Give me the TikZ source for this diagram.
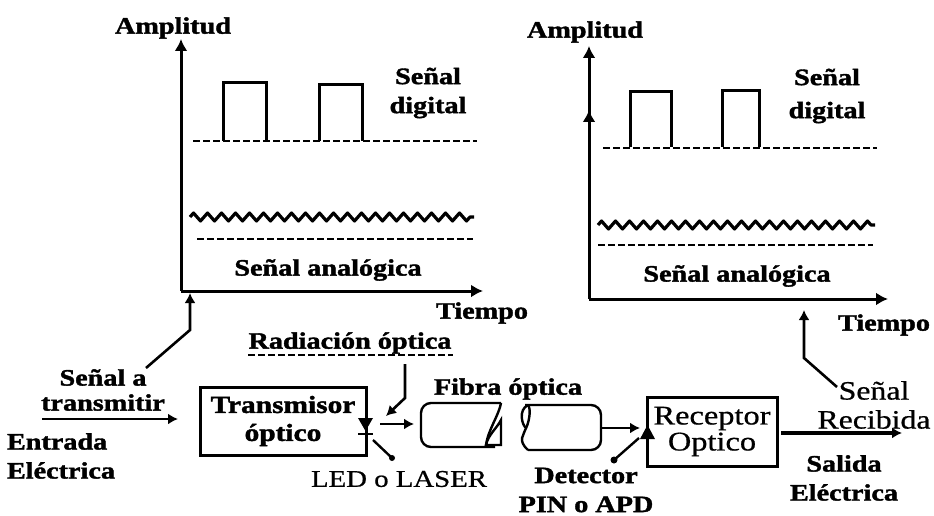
\documentclass[tikz,border=0pt]{standalone}
\usepackage{fontspec}
\setmainfont[FakeStretch=1.2, FakeBold=0.7, BoldFeatures={FakeBold=1.6}]{Liberation Serif}
\usetikzlibrary{arrows.meta, decorations.pathmorphing}
\tikzset{
  negrita/.style={inner sep=0pt, align=center, font=\bfseries\fontsize{23.5}{29}\selectfont},
  normal/.style={inner sep=0pt, align=center, font=\fontsize{24}{28}\selectfont},
  bloque/.style={draw=black, line width=3pt, inner sep=0pt, align=center},
  eje/.style={line width=3pt, -{Latex[length=12pt, width=13pt]}},
  flecha/.style={line width=2.6pt, -{Latex[length=10pt, width=11pt]}},
  base/.style={line width=1.8pt, dash pattern=on 7pt off 3pt},
  pulso/.style={line width=3pt},
  onda/.style={line width=3.2pt, line join=round, decorate, decoration={zigzag, segment length=14pt, amplitude=4pt}},
  fibra/.style={line width=2.4pt, rounded corners=10pt}
}
\begin{document}
\begin{tikzpicture}[x=1pt, y=-1pt]
\useasboundingbox (0,0) rectangle (934,516);
% left plot
\coordinate (o1) at (181,291);
\coordinate (y1) at (181,39);
\coordinate (x1) at (483,291);
\draw[eje] (o1) -- (y1);
\draw[eje] (o1) -- (x1);
\node[negrita] (amp1) at (173,28) {Amplitud};
\node[negrita] (tie1) at (482,313) {Tiempo};
\node[negrita] (dig1) at (428,93) {Señal\\digital};
\node[negrita] (ana1) at (328,270) {Señal analógica};
\foreach \a/\b/\t in {223/266/83, 319/362/85}
  \draw[pulso] (\a,141) -- (\a,\t) -- (\b,\t) -- (\b,141);
\draw[base] (193,141) -- (477,141);
\draw[onda] (190,217) -- (474,217);
\draw[base] (197,239) -- (473,239);
% right plot
\coordinate (o2) at (589,299);
\coordinate (y2) at (589,46);
\coordinate (m2) at (589,110);
\coordinate (x2) at (888,299);
\draw[eje] (o2) -- (y2);
\draw[eje] (o2) -- (m2);
\draw[eje] (o2) -- (x2);
\node[negrita] (amp2) at (585,32) {Amplitud};
\node[negrita] (tie2) at (884,325) {Tiempo};
\node[negrita, font=\bfseries\fontsize{23.5}{33}\selectfont] (dig2) at (827,96) {Señal\\digital};
\node[negrita] (ana2) at (737,276) {Señal analógica};
\foreach \a/\b/\t in {630/671/92, 722/759/91}
  \draw[pulso] (\a,147) -- (\a,\t) -- (\b,\t) -- (\b,147);
\draw[base] (603,148) -- (877,148);
\draw[onda] (598,225) -- (875,225);
\draw[base] (598,245) -- (873,245);
% link
\node[bloque, minimum width=166pt, minimum height=68pt, font=\bfseries\fontsize{24.5}{28}\selectfont] (tx) at (283,421) {Transmisor\\óptico};
\node[bloque, minimum width=130pt, minimum height=69pt, font=\fontsize{27}{26}\selectfont] (rx) at (712,431.5) {Receptor\\Optico};
\node[negrita, font=\bfseries\fontsize{23.5}{25}\selectfont] (sen) at (103,390) {Señal a\\transmitir};
\node[negrita, align=left] (ent) at (61,456) {Entrada\\Eléctrica};
\node[negrita] (rad) at (350,343) {Radiación óptica};
\node[negrita] (fib) at (508,389) {Fibra óptica};
\node[normal] (led) at (399,479) {LED o LASER};
\node[negrita] (det) at (586,490) {Detector\\PIN o APD};
\node[normal, font=\fontsize{26.5}{29}\selectfont] (rec) at (874,405) {Señal\\Recibida};
\node[negrita] (sal) at (844,478) {Salida\\Eléctrica};
\coordinate (ein) at (42,419);
\coordinate (ein2) at (178,419);
\draw[flecha] (ein) -- (ein2);
\coordinate (s1) at (146,368);
\coordinate (s2) at (190,330);
\coordinate (s3) at (190,293);
\draw[flecha] (s1) -- (s2) -- (s3);
\draw[base] (248,355) -- (453,355);
\coordinate (r1) at (405,364);
\coordinate (r2) at (405,398);
\coordinate (r3) at (386,416);
\draw[flecha] (r1) -- (r2) -- (r3);
% emitter
\fill (358,418) -- (373,418) -- (365.5,431) -- cycle;
\draw[line width=2.6pt] (358,434) -- (373,434);
\coordinate (l1) at (373,440);
\coordinate (l2) at (392,458);
\draw[line width=2.4pt] (l1) -- (l2);
\fill (l2) circle (3pt);
\coordinate (f0) at (380,424);
\coordinate (f1) at (414,424);
\draw[flecha] (f0) -- (f1);
% fibre
\draw[fibra] (501,403) -- (421,403) -- (421,447) -- (495,447);
\draw[line width=2.4pt] (501,403) .. controls (499,415) and (488,430) .. (486,445);
\draw[line width=2.4pt] (501,420) .. controls (497,428) and (488,435) .. (486,445) -- (501,445) -- cycle;
\draw[fibra] (525,405) -- (601,405) -- (601,450) -- (528,450);
\draw[line width=2.4pt] (528,405) .. controls (518,410) and (522,425) .. (526,428) .. controls (524,435) and (517,440) .. (528,450);
\draw[line width=2.4pt] (528,405) .. controls (532,410) and (528,425) .. (526,428);
% detector
\coordinate (f2) at (602,428);
\coordinate (f3) at (640,428);
\draw[flecha] (f2) -- (f3);
\fill (640,439) -- (655,439) -- (647.5,425) -- cycle;
\coordinate (d1) at (614,460);
\coordinate (d2) at (639,438);
\draw[line width=2.4pt] (d1) -- (d2);
\fill (d1) circle (3.5pt);
\coordinate (out1) at (781,433);
\coordinate (out2) at (902,433);
\draw[flecha, line width=3.4pt] (out1) -- (out2);
\coordinate (t1) at (837,387);
\coordinate (t2) at (804,358);
\coordinate (t3) at (804,310);
\draw[flecha] (t1) -- (t2) -- (t3);
\end{tikzpicture}
\end{document}
